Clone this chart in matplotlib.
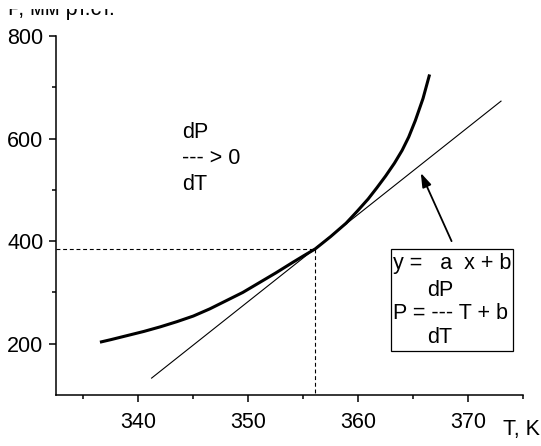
import matplotlib

matplotlib.use("Agg")
import matplotlib.pyplot as plt
from matplotlib.patches import Rectangle
from matplotlib.ticker import FixedLocator

plt.rcParams["font.family"] = ["Liberation Sans", "DejaVu Sans"]

# кривая давления пара
T_CURVE = [336.5, 337.5, 339.0, 340.5, 342.0, 343.5, 345.0, 346.5, 348.0, 349.5,
           351.0, 352.5, 354.0, 355.0, 356.1, 357.5, 358.9, 359.9, 360.9, 361.7,
           362.5, 363.3, 364.0, 364.6, 365.2, 365.9, 366.5]
P_CURVE = [203, 208, 216, 224, 233, 243, 254, 268, 284, 300,
           319, 338, 358, 371, 385, 409, 435, 458, 482, 504,
           527, 552, 577, 603, 635, 678, 725]

# касательная
T_TAN = [341.2, 373.0]
P_TAN = [133, 673]

# точка касания
T0, P0 = 356.1, 385

# стрелка к касательной: (T, P) хвоста и головы
ARROW_TAIL = (368.5, 400)
ARROW_HEAD = (365.7, 533)

X_MAJOR = [340, 350, 360, 370]
X_MINOR = [335, 345, 355, 365, 375]
Y_MAJOR = [200, 400, 600, 800]
Y_MINOR = [300, 500, 700]

FS = 15.5

fig = plt.figure(figsize=(5.41, 4.46), dpi=100)
ax = fig.add_axes([0.1035, 0.1143, 0.8632, 0.805])

ax.plot(T_CURVE, P_CURVE, color="black", lw=2.2, solid_capstyle="butt")
ax.plot(T_TAN, P_TAN, color="black", lw=0.8)

# пунктир к точке касания
ax.plot([332.5, T0], [P0, P0], color="black", lw=0.8, ls=(0, (3.5, 2.5)))
ax.plot([T0, T0], [P0, 100], color="black", lw=0.8, ls=(0, (3.5, 2.5)))

ax.annotate("", xy=ARROW_HEAD, xytext=ARROW_TAIL,
            arrowprops=dict(arrowstyle="-|>,head_length=0.6,head_width=0.2",
                            color="black", lw=1.3,
                            mutation_scale=14, shrinkA=0, shrinkB=0))

# dP/dT > 0
ax.text(344.0, 612, "dP", fontsize=FS, va="center", ha="left")
ax.text(344.0, 562, "--- > 0", fontsize=FS, va="center", ha="left")
ax.text(344.0, 510, "dT", fontsize=FS, va="center", ha="left")

# рамка с уравнением
ax.add_patch(Rectangle((362.95, 186), 374.1 - 362.95, 384 - 186, fill=False,
                       edgecolor="black", lw=0.9, clip_on=False, zorder=5))
ax.text(363.2, 356, "y =   a  x + b", fontsize=FS, va="center", ha="left")
ax.text(366.3, 304, "dP", fontsize=FS, va="center", ha="left")
ax.text(363.2, 259, "P = --- T + b", fontsize=FS, va="center", ha="left")
ax.text(366.3, 212, "dT", fontsize=FS, va="center", ha="left")

ax.set_xlim(332.5, 375)
ax.set_ylim(100, 800)
ax.xaxis.set_major_locator(FixedLocator(X_MAJOR))
ax.xaxis.set_minor_locator(FixedLocator(X_MINOR))
ax.yaxis.set_major_locator(FixedLocator(Y_MAJOR))
ax.yaxis.set_minor_locator(FixedLocator(Y_MINOR))
ax.spines["top"].set_visible(False)
ax.spines["right"].set_visible(False)
for s in ("left", "bottom"):
    ax.spines[s].set_linewidth(1.1)
ax.tick_params(which="major", direction="out", length=5, width=1.1,
               labelsize=FS, pad=4)
ax.tick_params(which="minor", direction="out", length=3, width=1.1)
ax.tick_params(axis="x", which="major", pad=7)

fig.text(540 / 541, 1 - 430 / 446, "T, K", fontsize=FS, ha="right", va="center")

# подпись оси Y обрезана сверху, как на исходнике
fig.text(8 / 541, 1 - 15 / 446, "Р, мм рт.ст.", fontsize=FS, ha="left",
         va="baseline", zorder=1)
fig.patches.append(Rectangle((0, 1 - 9 / 446), 1, 9 / 446, transform=fig.transFigure,
                             facecolor="white", edgecolor="none", zorder=10))

fig.savefig("out.png", dpi=100)
